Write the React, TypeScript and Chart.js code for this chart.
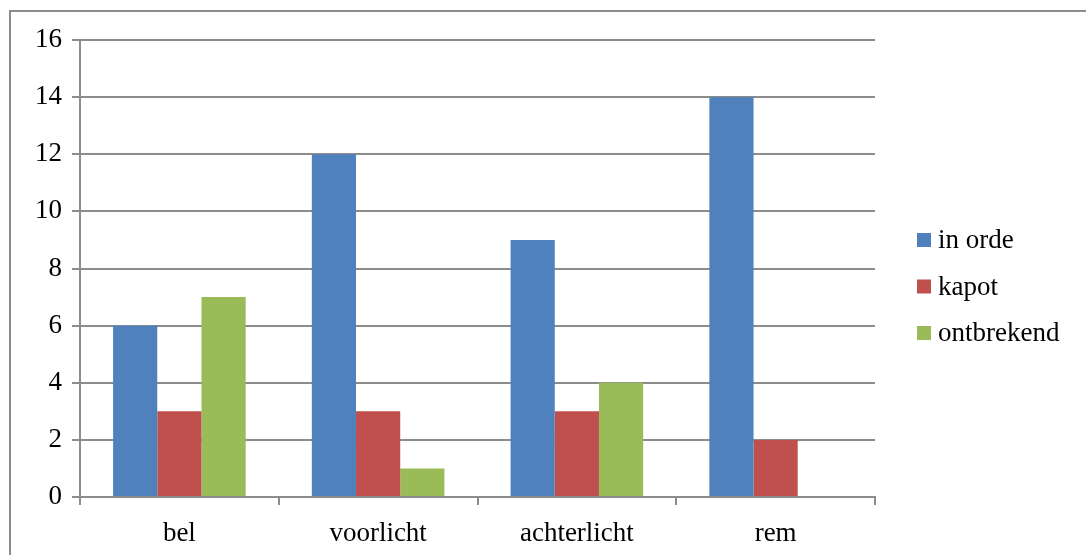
import React, { useEffect, useRef } from "react";
import { Chart, registerables } from "chart.js";

Chart.register(...registerables);

const categories = ["bel", "voorlicht", "achterlicht", "rem"];
const seriesNames = ["in orde", "kapot", "ontbrekend"];
const inOrde = [6, 12, 9, 14];
const kapot = [3, 3, 3, 2];
const ontbrekend = [7, 1, 4, 0];
const colors = ["#4F81BD", "#C0504D", "#9BBB59"];

const FONT = "'Liberation Serif', 'Times New Roman', serif";

const framePlugin = {
  id: "frame",
  beforeDraw(chart: any) {
    const ctx = chart.ctx;
    ctx.save();
    ctx.fillStyle = "#ffffff";
    ctx.fillRect(0, 0, chart.width, chart.height);
    ctx.strokeStyle = "#8c8c8c";
    ctx.lineWidth = 2;
    ctx.beginPath();
    ctx.moveTo(10, chart.height + 5);
    ctx.lineTo(10, 11);
    ctx.lineTo(chart.width + 5, 11);
    ctx.stroke();
    ctx.restore();
  },
};

const legendPlugin = {
  id: "customLegend",
  afterDraw(chart: any) {
    const ctx = chart.ctx;
    ctx.save();
    ctx.font = `27px ${FONT}`;
    ctx.textBaseline = "middle";
    ctx.textAlign = "left";
    const x0 = 917;
    const yStart = 240;
    const step = 46.5;
    chart.data.datasets.forEach((ds: any, i: number) => {
      const cy = yStart + i * step;
      ctx.fillStyle = ds.backgroundColor;
      ctx.fillRect(x0, cy - 7, 14, 14);
      ctx.fillStyle = "#000000";
      ctx.fillText(ds.label, x0 + 21, cy + 1);
    });
    ctx.restore();
  },
};

export default function App() {
  const ref = useRef<HTMLCanvasElement | null>(null);

  useEffect(() => {
    document.body.style.margin = "0";
    const canvas = ref.current;
    if (!canvas) return;
    const chart = new Chart(canvas, {
      type: "bar",
      data: {
        labels: categories,
        datasets: [
          { label: seriesNames[0], data: inOrde, backgroundColor: colors[0] },
          { label: seriesNames[1], data: kapot, backgroundColor: colors[1] },
          { label: seriesNames[2], data: ontbrekend, backgroundColor: colors[2] },
        ],
      },
      options: {
        responsive: false,
        animation: false,
        devicePixelRatio: 1,
        layout: { padding: { left: 0, top: 40, right: 211, bottom: 0 } },
        plugins: {
          legend: { display: false },
          tooltip: { enabled: false },
        },
        datasets: {
          bar: { barPercentage: 1, categoryPercentage: 0.667 },
        },
        scales: {
          x: {
            offset: true,
            grid: {
              offset: true,
              drawOnChartArea: false,
              drawTicks: true,
              tickLength: 8,
              color: "#8c8c8c",
              lineWidth: 2,
            },
            border: { display: true, color: "#8c8c8c", width: 2 },
            ticks: {
              color: "#000000",
              font: { family: FONT, size: 27 },
              padding: 13,
              maxRotation: 0,
            },
            afterFit(scale: any) {
              scale.height = 58;
            },
          },
          y: {
            min: 0,
            max: 16,
            grid: {
              drawOnChartArea: true,
              drawTicks: true,
              tickLength: 8,
              color: "#8c8c8c",
              lineWidth: 2,
            },
            border: { display: true, color: "#8c8c8c", width: 2 },
            ticks: {
              stepSize: 2,
              color: "#000000",
              font: { family: FONT, size: 27 },
              padding: 10,
            },
            afterFit(scale: any) {
              scale.width = 80;
            },
          },
        },
      },
      plugins: [framePlugin, legendPlugin],
    });
    return () => chart.destroy();
  }, []);

  return (
    <div style={{ width: 1086, height: 555 }}>
      <canvas ref={ref} width={1086} height={555} style={{ display: "block" }} />
    </div>
  );
}
